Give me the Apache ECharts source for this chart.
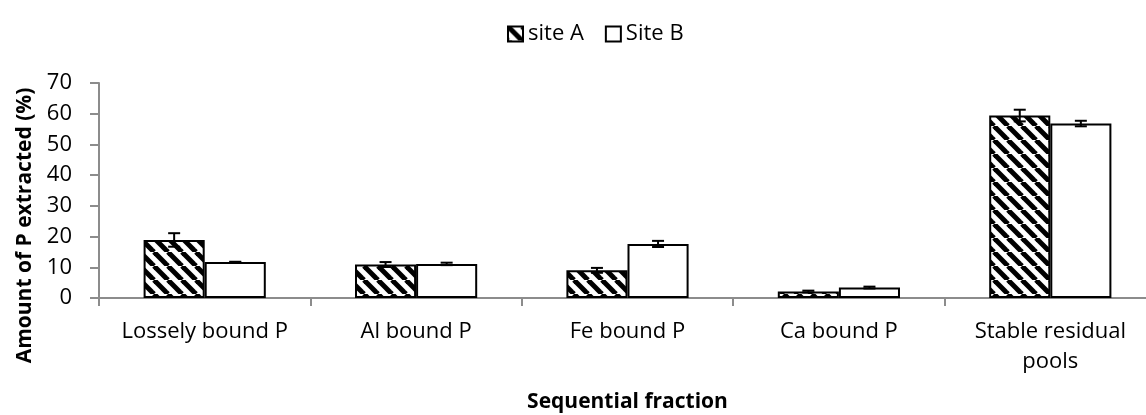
<!DOCTYPE html>
<html>
<head>
<meta charset="utf-8">
<script src="https://cdn.jsdelivr.net/npm/echarts@6/dist/echarts.min.js"></script>
<style>
  html, body { margin: 0; padding: 0; background: #fff; }
  #chart { width: 1146px; height: 415px; }
</style>
</head>
<body>
<div id="chart"></div>
<script>
const categories = ['Lossely bound P', 'Al bound P', 'Fe bound P', 'Ca bound P', 'Stable residual\npools'];
const siteA = [18.9, 10.9, 9.0, 2.1, 59.4];
const siteAErr = [2.2, 0.8, 0.8, 0.3, 1.9];
const siteB = [11.7, 11.1, 17.6, 3.4, 56.8];
const siteBErr = [0.1, 0.4, 1.0, 0.3, 0.9];
const yTicks = [0, 10, 20, 30, 40, 50, 60, 70];

// diagonal hatch (top-left to bottom-right) for site A
function hatch() {
    const c = document.createElement('canvas');
    c.width = 14; c.height = 14;
    const ctx = c.getContext('2d');
    ctx.fillStyle = '#fff';
    ctx.fillRect(0, 0, 14, 14);
    ctx.strokeStyle = '#000';
    ctx.lineWidth = 5;
    [-14, 0, 14].forEach(k => {
        ctx.beginPath();
        ctx.moveTo(k, 0);
        ctx.lineTo(k + 14, 14);
        ctx.stroke();
    });
    return c;
}

const font = '"Open Sans", sans-serif';
const barFrac = 0.289;

function errorSeries(values, errs, side) {
    return {
        type: 'custom',
        silent: true,
        z: 5,
        data: values.map((v, i) => [i, v - errs[i], v + errs[i]]),
        renderItem: (params, api) => {
            const band = api.size([1, 0])[0];
            const lo = api.coord([api.value(0), api.value(1)]);
            const hi = api.coord([api.value(0), api.value(2)]);
            const x = lo[0] + side * band * barFrac / 2;
            const cap = 6;
            const style = { stroke: '#000', lineWidth: 2 };
            return {
                type: 'group',
                children: [
                    { type: 'line', shape: { x1: x, y1: lo[1], x2: x, y2: hi[1] }, style },
                    { type: 'line', shape: { x1: x - cap, y1: lo[1], x2: x + cap, y2: lo[1] }, style },
                    { type: 'line', shape: { x1: x - cap, y1: hi[1], x2: x + cap, y2: hi[1] }, style }
                ]
            };
        }
    };
}

const chart = echarts.init(document.getElementById('chart'), null, { renderer: 'canvas' });

chart.setOption({
    animation: false,
    legend: {
        data: ['site A', 'Site B'],
        left: 502,
        top: 18,
        icon: 'rect',
        itemWidth: 15,
        itemHeight: 15,
        itemGap: 21,
        textStyle: { fontFamily: font, fontSize: 22, color: '#000' }
    },
    grid: {
        left: 99,
        top: 83,
        bottom: 117,
        width: 1057,
        containLabel: false,
        outerBoundsMode: 'none'
    },
    xAxis: {
        type: 'category',
        data: categories,
        name: 'Sequential fraction',
        nameLocation: 'middle',
        nameGap: 94,
        nameTextStyle: { fontFamily: font, fontSize: 21, fontWeight: 'bold', color: '#000' },
        axisLine: { lineStyle: { color: '#8c8c8c', width: 2 } },
        axisTick: { show: true, length: 8, lineStyle: { color: '#8c8c8c', width: 2 } },
        axisLabel: { fontFamily: font, fontSize: 22, color: '#000', margin: 19, lineHeight: 30, interval: 0 }
    },
    yAxis: {
        type: 'value',
        min: 0,
        max: 70,
        interval: 10,
        name: 'Amount of P extracted (%)',
        nameLocation: 'middle',
        nameGap: 62,
        nameTextStyle: {
            fontFamily: font, fontSize: 21, fontWeight: 'bold', color: '#000',
            padding: [0, 70, 0, 0]
        },
        splitLine: { show: false },
        axisLine: { show: true, lineStyle: { color: '#8c8c8c', width: 2 } },
        axisTick: { show: true, length: 9, lineStyle: { color: '#8c8c8c', width: 2 } },
        axisLabel: {
            fontFamily: font, fontSize: 22, color: '#000', margin: 27,
            formatter: v => yTicks.includes(v) ? String(v) : ''
        }
    },
    series: [
        {
            name: 'site A',
            type: 'bar',
            data: siteA,
            barWidth: (barFrac * 100) + '%',
            barGap: '0%',
            itemStyle: { color: { image: hatch(), repeat: 'repeat' }, borderColor: '#000', borderWidth: 2 }
        },
        {
            name: 'Site B',
            type: 'bar',
            data: siteB,
            barWidth: (barFrac * 100) + '%',
            barGap: '0%',
            itemStyle: { color: '#fff', borderColor: '#000', borderWidth: 2 }
        },
        errorSeries(siteA, siteAErr, -1),
        errorSeries(siteB, siteBErr, 1)
    ]
});
</script>
</body>
</html>
